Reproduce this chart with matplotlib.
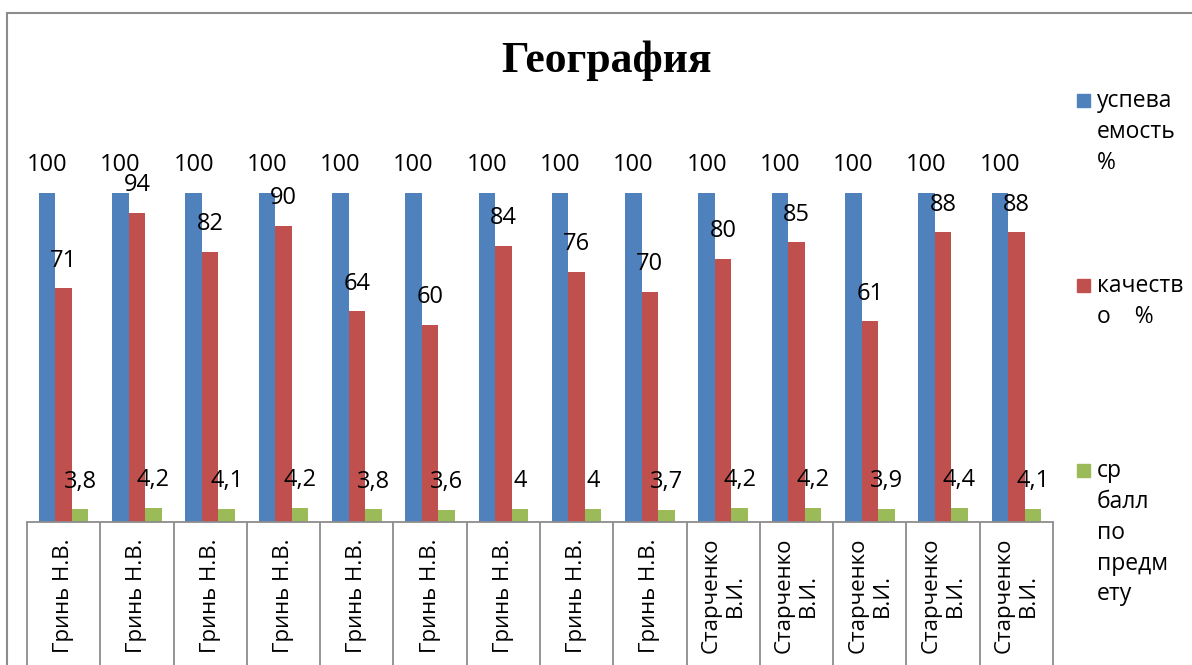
import numpy as np
import matplotlib.pyplot as plt
from matplotlib.patches import Rectangle
import matplotlib.transforms as mtransforms

plt.rcParams['font.family'] = ['Open Sans', 'DejaVu Sans']

# данные
teachers = ['Гринь Н.В.', 'Гринь Н.В.', 'Гринь Н.В.', 'Гринь Н.В.', 'Гринь Н.В.',
            'Гринь Н.В.', 'Гринь Н.В.', 'Гринь Н.В.', 'Гринь Н.В.',
            'Старченко\nВ.И.', 'Старченко\nВ.И.', 'Старченко\nВ.И.',
            'Старченко\nВ.И.', 'Старченко\nВ.И.']
uspevaemost = [100, 100, 100, 100, 100, 100, 100, 100, 100, 100, 100, 100, 100, 100]
kachestvo = [71, 94, 82, 90, 64, 60, 84, 76, 70, 80, 85, 61, 88, 88]
sr_ball = [3.8, 4.2, 4.1, 4.2, 3.8, 3.6, 4, 4, 3.7, 4.2, 4.2, 3.9, 4.4, 4.1]

series_names = ['успева\nемость\n%', 'качеств\nо    %', 'ср\nбалл\nпо\nпредм\nету']
colors = ['#4F81BD', '#C0504D', '#9BBB59']
gray = '#8C8C8C'

W, H = 1192, 665
fig = plt.figure(figsize=(W / 100, H / 100), dpi=100)

# область построения
ax_left, ax_right, ax_base = 27, 1053, 522
ymax = 110
ax_top = ax_base - ymax * 3.29
ax = fig.add_axes([ax_left / W, (H - ax_base) / H, (ax_right - ax_left) / W, (ax_base - ax_top) / H])

x = np.arange(len(teachers))
bw = 0.225
all_series = [uspevaemost, kachestvo, sr_ball]
for k, (vals, col) in enumerate(zip(all_series, colors)):
    pos = x + (k - 1) * bw
    ax.bar(pos, vals, width=bw, color=col, linewidth=0)
    for px, v in zip(pos, vals):
        txt = f'{v:g}'.replace('.', ',')
        ax.annotate(txt, (px, v), xytext=(0, 20), textcoords='offset points',
                    ha='center', va='center', fontsize=17, color='black')

ax.set_xlim(-0.5, len(teachers) - 0.5)
ax.set_ylim(0, ymax)
ax.set_yticks([])
for s in ['top', 'left', 'right']:
    ax.spines[s].set_visible(False)
ax.spines['bottom'].set_color(gray)
ax.spines['bottom'].set_linewidth(1.3)

# подписи категорий
ax.set_xticks(x)
ax.set_xticklabels(teachers, rotation=90, fontsize=16, va='center', ha='center',
                   multialignment='center')
ax.tick_params(axis='x', which='major', length=0, pad=53)
ax.set_xticks(np.arange(len(teachers) + 1) - 0.5, minor=True)
ax.tick_params(axis='x', which='minor', length=110, width=1.3, color=gray)

# заголовок
fig.text(606 / W, 1 - 61 / H, 'География', ha='center', va='center',
         fontsize=31.5, fontweight='bold', family='Liberation Serif')

# легенда
leg_y = [100, 285, 470]
for name, col, yy in zip(series_names, colors, leg_y):
    fig.add_artist(Rectangle((1077 / W, 1 - (yy + 7) / H), 13 / W, 13 / H,
                             transform=fig.transFigure, color=col))
    fig.text(1097 / W, 1 - yy / H, name, ha='left', va='top', fontsize=16.5,
             linespacing=1.38,
             transform=fig.transFigure + mtransforms.ScaledTranslation(0, 11 / 100, fig.dpi_scale_trans))

# рамка диаграммы
fig.add_artist(Rectangle((7 / W, -0.1), 1.2, 1.1 - 13 / H, transform=fig.transFigure,
                         fill=False, edgecolor=gray, linewidth=1.5))

fig.savefig('out.png', dpi=100)
